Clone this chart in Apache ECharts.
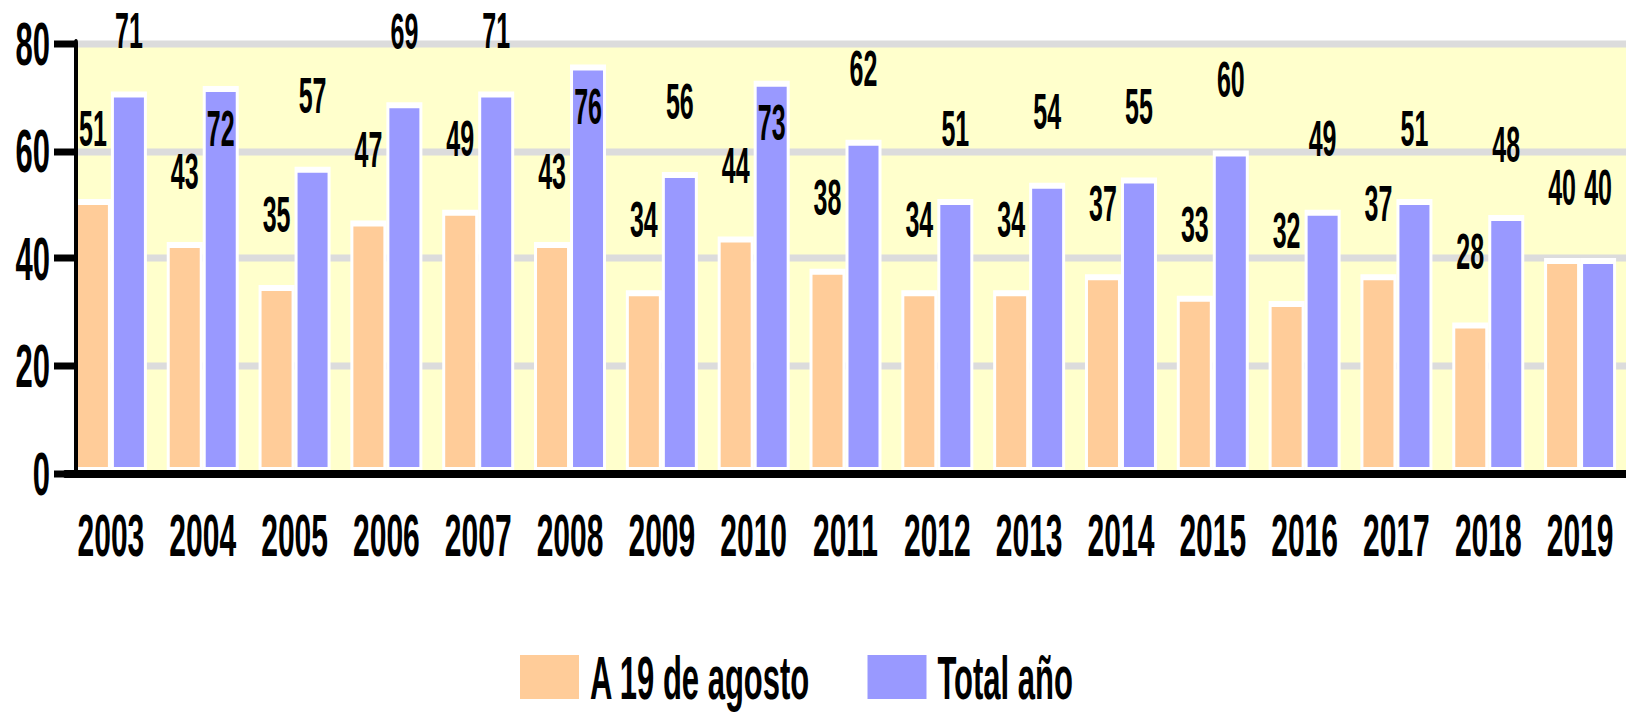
<!DOCTYPE html>
<html><head><meta charset="utf-8">
<script src="https://cdn.jsdelivr.net/npm/echarts@6.0.0/dist/echarts.min.js"></script>
<style>
html,body{margin:0;padding:0;background:#fff;overflow:hidden;width:1626px;height:712px;}
#wrap{width:1626px;height:712px;overflow:hidden;}
#chart{width:1626px;height:356px;transform:scaleY(2);transform-origin:0 0;}
</style></head><body>
<div id="wrap"><div id="chart"></div></div>
<script>
// ---- data ----
const years = ['2003','2004','2005','2006','2007','2008','2009','2010','2011','2012','2013','2014','2015','2016','2017','2018','2019'];
const hastaAgosto = [51,43,35,47,49,43,34,44,38,34,34,37,33,32,37,28,40];
const totalAnio   = [71,72,57,69,71,76,56,73,62,51,54,55,60,49,51,48,40];
const seriesNames = ['A 19 de agosto','Total año'];
const yMin = 0, yMax = 80, yStep = 20;

// ---- style ----
const FONT = "'Liberation Sans', Arial, sans-serif";
const ORANGE = '#FFCC99', BLUE = '#9999FF', PLOT_BG = '#FFFFCC', GRID_LINE = '#DCDCDC';
const TOP = 21.5, H = 215;
const INSIDE_LIMIT = 71;   // labels of bars taller than this sit inside the bar
const LABEL_MIN_TOP = 2.5; // labels are kept below this line

const labelTop = {show:true, position:'top', distance:23, color:'#000', fontSize:25, fontWeight:'bold', fontFamily:FONT};
function withLabels(vals){
  return vals.map(v => v > INSIDE_LIMIT ? {value:v, label:{position:'insideTop', distance:8.5}} : v);
}
function keepInside(p){
  return p.labelRect.y < LABEL_MIN_TOP ? {dy: LABEL_MIN_TOP - p.labelRect.y} : {};
}

const chart = echarts.init(document.getElementById('chart'), null, {renderer:'svg'});
chart.setOption({
  animation:false,
  backgroundColor:'#fff',
  grid:[
    {left:76, right:0, top:TOP, height:H, show:true, backgroundColor:PLOT_BG, borderWidth:0},
    {left:65, width:1572.5, top:TOP, height:H}
  ],
  legend:{
    data:seriesNames, left:520, top:323, padding:0, itemWidth:59, itemHeight:22, itemGap:57,
    icon:'rect', itemStyle:{borderWidth:0},
    textStyle:{fontSize:31, fontWeight:'bold', color:'#000', fontFamily:FONT, padding:[0,0,0,6]}
  },
  xAxis:[
    {gridIndex:0, type:'category', data:years, show:false},
    {gridIndex:1, type:'category', data:years, z:3,
     axisLine:{lineStyle:{color:'#000', width:4}},
     axisTick:{alignWithLabel:true, length:5.5, lineStyle:{color:'#000', width:3}},
     axisLabel:{color:'#000', fontSize:30, fontWeight:'bold', fontFamily:FONT, margin:16, interval:0},
     splitLine:{show:false}}
  ],
  yAxis:[
    {gridIndex:0, type:'value', min:yMin, max:yMax, interval:yStep, position:'left', z:0,
     axisLine:{show:false}, axisTick:{show:false}, axisLabel:{show:false},
     splitLine:{show:true, lineStyle:{color:GRID_LINE, width:3.5}}},
    {gridIndex:0, type:'value', min:yMin, max:yMax, interval:yStep, position:'left', z:3,
     axisLine:{show:true, lineStyle:{color:'#000', width:4}},
     axisTick:{show:true, length:22, lineStyle:{color:'#000', width:3.5}},
     axisLabel:{color:'#000', fontSize:31, fontWeight:'bold', fontFamily:FONT, margin:26},
     splitLine:{show:false}},
    {gridIndex:1, type:'value', min:yMin, max:yMax, interval:yStep, show:false, splitLine:{show:false}}
  ],
  series:[
    {name:seriesNames[0], type:'bar', xAxisIndex:1, yAxisIndex:2, data:withLabels(hastaAgosto),
     barWidth:36, barGap:'0%', itemStyle:{color:ORANGE, borderColor:'#fff', borderWidth:3},
     label:labelTop, labelLayout:keepInside},
    {name:seriesNames[1], type:'bar', xAxisIndex:1, yAxisIndex:2, data:withLabels(totalAnio),
     barWidth:36, barGap:'0%', itemStyle:{color:BLUE, borderColor:'#fff', borderWidth:3},
     label:labelTop, labelLayout:keepInside}
  ]
});
</script>
</body></html>
